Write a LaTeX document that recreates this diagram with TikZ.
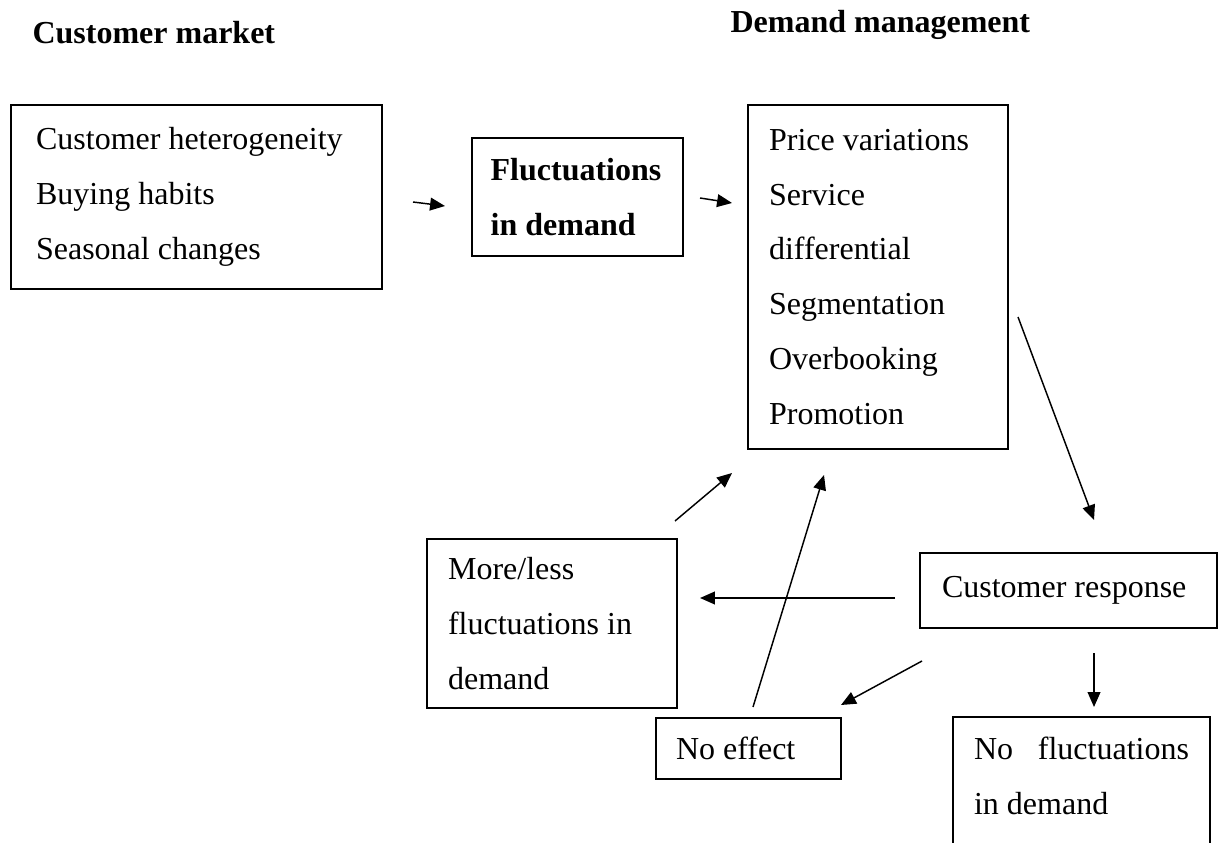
\documentclass[tikz,border=0pt]{standalone}
\usepackage{fontspec}
\setmainfont{Liberation Serif}
\usetikzlibrary{arrows.meta}
\tikzstyle{box}=[rectangle,draw,line width=0.75pt,anchor=north west,align=flush left,inner ysep=0pt,font=\fontsize{12}{20.6}\selectfont]
\tikzstyle{bold box}=[box,font=\fontsize{12}{20.6}\selectfont\bfseries]
\tikzstyle{heading}=[anchor=base west,inner sep=0pt,font=\fontsize{12}{14}\selectfont\bfseries]
\tikzstyle{flow}=[-{Triangle[length=5.6pt,width=4.8pt]},line width=0.55pt]

\begin{document}
\begin{tikzpicture}[x=0.375pt,y=-0.375pt]
\clip (0,0) rectangle (1218,843);

\node (cm) [heading] at (32,44) {Customer market};
\node (dm) [heading] at (730,33) {Demand management};

\node (market) [box,inner xsep=9.4pt,text width=120.3pt,minimum height=69pt] at (10,104) {Customer heterogeneity\\Buying habits\\Seasonal changes};
\node (fluct) [bold box,inner xsep=7pt,text width=65.1pt,minimum height=44.3pt] at (471,137) {Fluctuations\\in demand};
\node (dmgmt) [box,inner xsep=7.9pt,text width=81.7pt,minimum height=129pt] at (747,104) {Price variations\\Service\\differential\\Segmentation\\Overbooking\\Promotion};
\node (resp) [box,inner xsep=8.25pt,text width=94.9pt,minimum height=28.1pt] at (919,552) {Customer response};
\node (moreless) [box,inner xsep=7.9pt,text width=78pt,minimum height=63.4pt] at (426,538) {More/less\\fluctuations in\\demand};
\node (noeff) [box,inner xsep=7.5pt,text width=54.4pt,minimum height=22.9pt] at (655,717) {No effect};
\node (nofluct) [box,inner xsep=7.9pt,inner ysep=7.5pt,text width=80.6pt,text depth=46pt] at (952,716) {\makebox[80.6pt]{No\hfill fluctuations}\\in demand};

\coordinate (mkt out) at (413,202);
\coordinate (fl in) at (445,206);
\coordinate (fl out) at (700,198);
\coordinate (dm in) at (732,203);
\coordinate (dm out) at (1018,317);
\coordinate (resp in) at (1094,520);
\coordinate (resp left) at (895,598);
\coordinate (ml in) at (700,598);
\coordinate (resp low) at (922,661);
\coordinate (ne in) at (841,705);
\coordinate (resp down) at (1094,653);
\coordinate (nf in) at (1094,707);
\coordinate (ml out) at (675,521);
\coordinate (dm back) at (732,473);
\coordinate (ne out) at (753,707);
\coordinate (dm up) at (824,475);

\draw [flow] (mkt out) -- (fl in);
\draw [flow] (fl out) -- (dm in);
\draw [flow] (dm out) -- (resp in);
\draw [flow] (resp left) -- (ml in);
\draw [flow] (resp low) -- (ne in);
\draw [flow] (resp down) -- (nf in);
\draw [flow] (ml out) -- (dm back);
\draw [flow] (ne out) -- (dm up);

\end{tikzpicture}
\end{document}
